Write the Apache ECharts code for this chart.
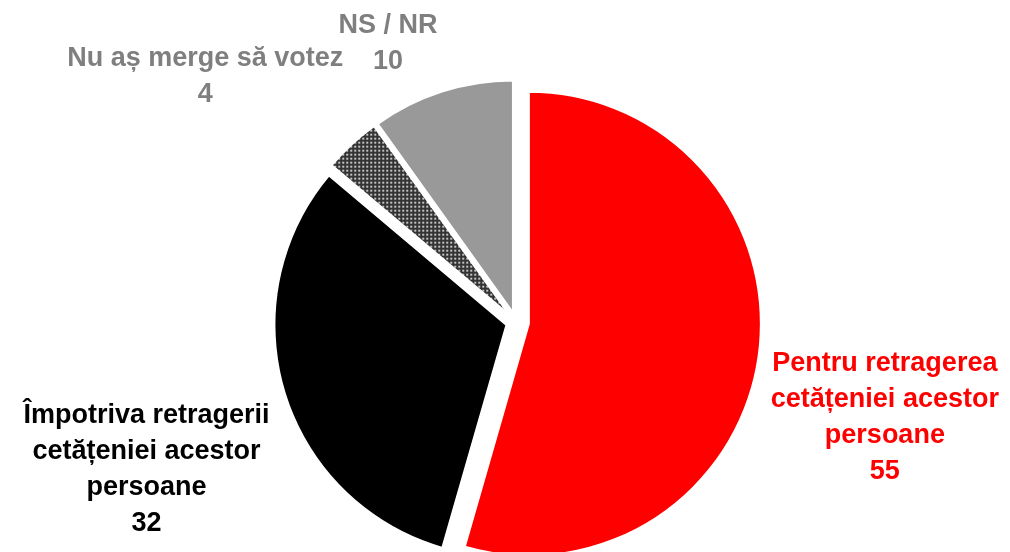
<!DOCTYPE html>
<html lang="ro">
<head>
    <meta charset="utf-8">
    <script src="https://cdn.jsdelivr.net/npm/echarts@6/dist/echarts.min.js"></script>
    <title></title>
    <style>
        html, body {margin: 0; padding: 0; background: #fff;}
    </style>
</head>
<body>
<div id="main" style="width: 1010px;height:552px;"></div>
<script type="text/javascript">
    // date
    var categories = [
        'Pentru retragerea\ncetățeniei acestor\npersoane',
        'Împotriva retragerii\ncetățeniei acestor\npersoane',
        'Nu aș merge să votez',
        'NS / NR'
    ];
    var values = [55, 32, 4, 10];
    var labelColors = ['#ff0000', '#000000', '#7f7f7f', '#7f7f7f'];
    // deplasarea etichetelor fata de centrul feliei
    var labelOffsets = [[356, 94], [-360, 145], [-304, -238], [-125, -269]];

    // texturi pentru felii
    function makeDots(size, bg, dot, dotSize) {
        var c = document.createElement('canvas');
        c.width = size;
        c.height = size;
        var ctx = c.getContext('2d');
        ctx.fillStyle = bg;
        ctx.fillRect(0, 0, size, size);
        ctx.fillStyle = dot;
        ctx.fillRect(1, 1, dotSize, dotSize);
        return c;
    }
    function makeChecker(a, b) {
        var c = document.createElement('canvas');
        c.width = 2;
        c.height = 2;
        var ctx = c.getContext('2d');
        ctx.fillStyle = a;
        ctx.fillRect(0, 0, 2, 2);
        ctx.fillStyle = b;
        ctx.fillRect(0, 0, 1, 1);
        ctx.fillRect(1, 1, 1, 1);
        return c;
    }
    var darkDots = makeDots(4, '#333333', '#c4c4c4', 2);
    var greyDots = makeChecker('#7a7a7a', '#b8b8b8');

    var fills = [
        '#ff0000',
        '#000000',
        {image: darkDots, repeat: 'repeat'},
        {image: greyDots, repeat: 'repeat'}
    ];

    var myChart = echarts.init(document.getElementById('main'));

    // seria 0: felii mici + negru, seria 1: doar felia rosie (scoasa mai mult)
    function buildData(seriesIdx) {
        return values.map(function (v, i) {
            var visible = (seriesIdx === 1) === (i === 0);
            return {
                name: categories[i],
                value: v,
                selected: true,
                itemStyle: visible
                    ? {color: fills[i], borderColor: '#fff', borderWidth: 2}
                    : {color: 'rgba(0,0,0,0)', borderWidth: 0},
                label: {show: visible, color: labelColors[i]}
            };
        });
    }

    var baseSeries = {
        type: 'pie',
        center: [516, 322],
        radius: [0, 232],
        startAngle: 90,
        clockwise: true,
        selectedMode: 'multiple',
        silent: true,
        label: {
            position: 'center',
            formatter: '{b}\n{c}',
            fontFamily: 'Liberation Sans, Arial, sans-serif',
            fontWeight: 'bold',
            fontSize: 27,
            lineHeight: 36,
            align: 'center',
            overflow: 'none'
        },
        labelLine: {show: false},
        labelLayout: function (params) {
            var o = labelOffsets[params.dataIndex];
            return {dx: o[0], dy: o[1]};
        }
    };

    var option = {
        animation: false,
        series: [
            Object.assign({}, baseSeries, {selectedOffset: 10, data: buildData(0)}),
            Object.assign({}, baseSeries, {selectedOffset: 13, data: buildData(1)})
        ]
    };

    myChart.setOption(option);
</script>
</body>
</html>
